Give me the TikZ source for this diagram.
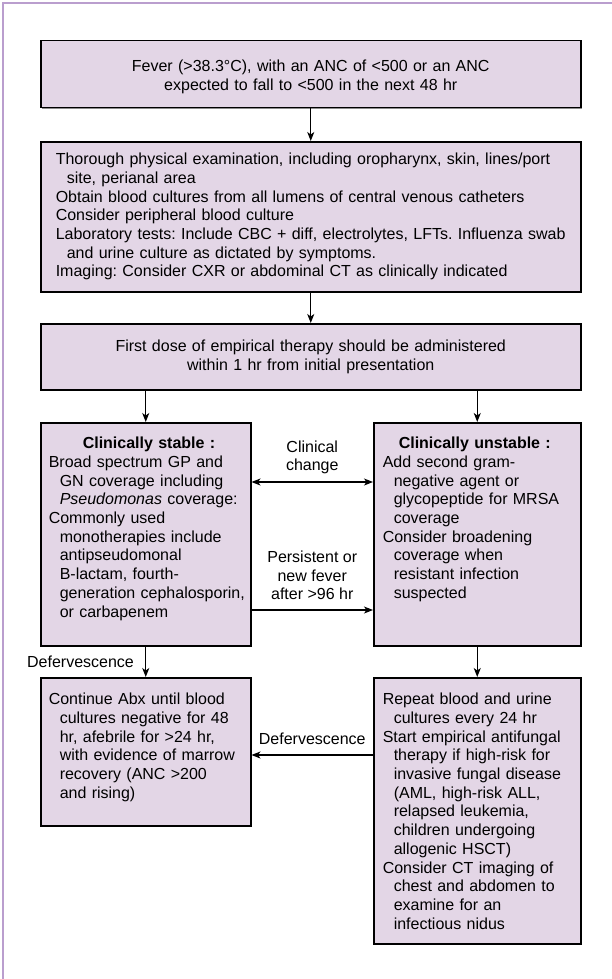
\documentclass[tikz,border=0pt]{standalone}
\usepackage{fontspec}
\setmainfont{Liberation Sans}
\usetikzlibrary{arrows.meta,shadows}
\definecolor{panelfill}{RGB}{227,214,230}
\definecolor{framepurple}{RGB}{186,158,206}
\newcommand{\cont}{\hspace*{11pt}}
\newcommand{\lpad}[1]{\leftskip=#1\relax}
\begin{document}
\begin{tikzpicture}[x=1pt, y=-1pt, >={Stealth[length=9pt,width=7pt,inset=2.5pt]},
  every node/.style={font=\fontsize{16}{18.7}\selectfont\frenchspacing},
  panel/.style={draw, line width=1.5pt, fill=panelfill, anchor=north west, inner sep=0pt,
    drop shadow={shadow xshift=1.2pt, shadow yshift=-1.2pt, fill=black!45, opacity=1}},
  link/.style={line width=1.1pt}]
\useasboundingbox (0,0) rectangle (612,979);
\draw [framepurple, line width=1.5pt] (3,979) -- (3,3) -- (612,3);

\node [panel, text width=540pt, align=center, text height=31pt, text depth=36pt] (fever) at (40,40)
  {Fever (>38.3°C), with an ANC of <500 or an ANC\\ expected to fall to <500 in the next 48 hr};
\node [panel, text width=540pt, align=left, text height=23pt, text depth=127pt] (workup) at (40,141)
  {\lpad{15pt}Thorough physical examination, including oropharynx, skin, lines/port\\
   \cont site, perianal area\\
   Obtain blood cultures from all lumens of central venous catheters\\
   Consider peripheral blood culture\\
   Laboratory tests: Include CBC + diff, electrolytes, LFTs. Influenza swab\\
   \cont and urine culture as dictated by symptoms.\\
   Imaging: Consider CXR or abdominal CT as clinically indicated\par};
\node [panel, text width=540pt, align=center, text height=28pt, text depth=38pt] (dose) at (40,323)
  {First dose of empirical therapy should be administered\\ within 1 hr from initial presentation};
\node [panel, text width=210pt, align=left, text height=26pt, text depth=197pt] (stable) at (40,422)
  {\lpad{8pt}\hspace*{34pt}\textbf{Clinically stable :}\\
   Broad spectrum GP and\\
   \cont GN coverage including\\
   \cont \textit{Pseudomonas} coverage:\\
   Commonly used\\
   \cont monotherapies include\\
   \cont antipseudomonal\\
   \cont B-lactam, fourth-\\
   \cont generation cephalosporin,\\
   \cont or carbapenem\par};
\node [panel, text width=207pt, align=left, text height=26pt, text depth=197pt] (unstable) at (373,422)
  {\lpad{9pt}\hspace*{16pt}\textbf{Clinically unstable :}\\
   Add second gram-\\
   \cont negative agent or\\
   \cont glycopeptide for MRSA\\
   \cont coverage\\
   Consider broadening\\
   \cont coverage when\\
   \cont resistant infection\\
   \cont suspected\par};
\node [panel, text width=210pt, align=left, text height=27pt, text depth=121pt] (recover) at (40,677)
  {\lpad{8pt}Continue Abx until blood\\
   \cont cultures negative for 48\\
   \cont hr, afebrile for >24 hr,\\
   \cont with evidence of marrow\\
   \cont recovery (ANC >200\\
   \cont and rising)\par};
\node [panel, text width=207pt, align=left, text height=27pt, text depth=239pt] (escalate) at (373,677)
  {\lpad{9pt}Repeat blood and urine\\
   \cont cultures every 24 hr\\
   Start empirical antifungal\\
   \cont therapy if high-risk for\\
   \cont invasive fungal disease\\
   \cont (AML, high-risk ALL,\\
   \cont relapsed leukemia,\\
   \cont children undergoing\\
   \cont allogenic HSCT)\\
   Consider CT imaging of\\
   \cont chest and abdomen to\\
   \cont examine for an\\
   \cont infectious nidus\par};

\coordinate (chg) at (310,482);
\coordinate (pers) at (310,610);
\coordinate (back) at (310,755);

\path [->, link] (fever) edge (workup);
\path [->, link] (workup) edge (dose);
\path [->, link] (dose.south -| stable) edge (stable);
\path [->, link] (dose.south -| unstable) edge (unstable);
\path [<->, link] (stable.east |- chg) edge node [above=4pt, align=center] (chglbl) {Clinical\\change} (unstable.west |- chg);
\path [->, link] (stable.east |- pers) edge node [above=6pt, align=center] (perslbl) {Persistent or\\new fever\\after >96 hr} (unstable.west |- pers);
\path [->, link] (stable) edge node [left=8pt] (deflbl) {Defervescence} (recover);
\path [->, link] (unstable) edge (escalate);
\path [->, link] (escalate.west |- back) edge node [above=6pt] (backlbl) {Defervescence} (recover.east |- back);
\end{tikzpicture}
\end{document}
